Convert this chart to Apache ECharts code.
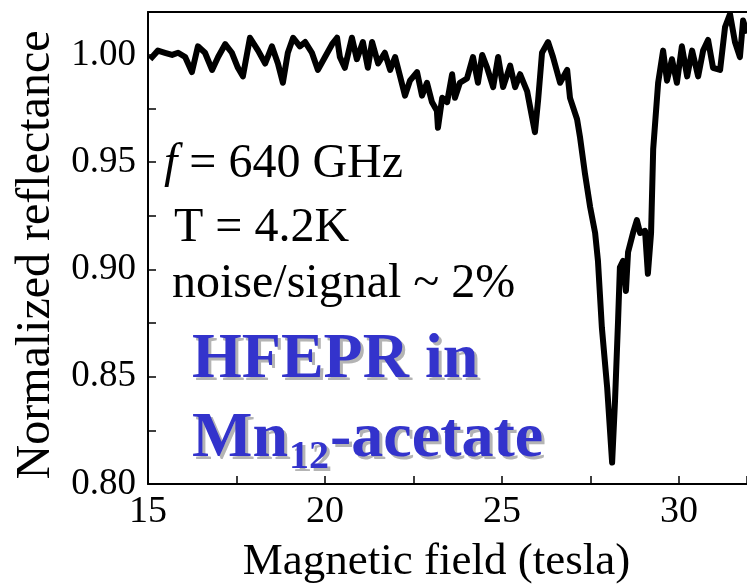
<!DOCTYPE html>
<html><head><meta charset="utf-8">
<script src="https://cdn.jsdelivr.net/npm/echarts@6/dist/echarts.min.js"></script>
<style>html,body{margin:0;padding:0;background:#fff}#c{width:747px;height:584px}</style>
</head><body><div id="c"></div>
<script>
var fieldTesla = [15.06,15.28,15.48,15.68,15.85,16.05,16.24,16.41,16.61,16.81,16.98,17.18,17.37,17.54,17.68,17.88,18.11,18.31,18.50,18.67,18.81,18.95,19.10,19.29,19.44,19.63,19.80,20.00,20.20,20.34,20.42,20.56,20.76,20.90,21.07,21.21,21.33,21.50,21.69,21.84,21.98,22.12,22.26,22.40,22.60,22.74,22.88,23.02,23.16,23.19,23.31,23.45,23.59,23.67,23.81,24.01,24.18,24.32,24.44,24.58,24.75,24.89,25.03,25.23,25.37,25.51,25.71,25.79,25.93,26.02,26.13,26.30,26.44,26.64,26.84,26.92,27.12,27.20,27.34,27.49,27.63,27.71,27.82,27.97,28.11,28.19,28.28,28.33,28.42,28.50,28.56,28.70,28.81,28.90,29.04,29.12,29.21,29.27,29.41,29.55,29.66,29.80,29.94,30.08,30.23,30.37,30.54,30.68,30.82,30.96,31.16,31.30,31.44,31.58,31.72,31.81,31.92];
var reflectance = [0.998,1.002,1.001,1.000,1.001,0.999,0.992,1.004,1.001,0.993,0.999,1.005,1.001,0.994,0.990,1.008,1.002,0.996,1.004,0.996,0.987,1.001,1.008,1.004,1.006,1.001,0.993,0.999,1.005,1.008,0.999,0.994,1.008,0.998,1.006,0.994,1.006,0.996,1.001,0.993,0.999,0.990,0.981,0.988,0.992,0.981,0.987,0.978,0.974,0.966,0.980,0.978,0.991,0.980,0.987,0.989,0.999,0.987,1.000,0.994,0.985,0.999,0.985,0.995,0.985,0.991,0.983,0.976,0.964,0.979,1.001,1.006,0.999,0.987,0.993,0.980,0.970,0.962,0.945,0.929,0.917,0.904,0.873,0.845,0.810,0.838,0.877,0.901,0.904,0.890,0.908,0.917,0.923,0.917,0.918,0.898,0.917,0.956,0.987,1.002,0.988,0.998,0.987,1.004,0.990,1.002,0.990,1.002,1.007,0.994,0.993,1.013,1.019,1.006,0.999,1.016,1.010];
var xTicks = [15,20,25,30];
var yTicks = [0.80,0.85,0.90,0.95,1.00];
var xName = 'Magnetic field (tesla)';
var yName = 'Normalized reflectance';
var noteLines = ['T = 4.2K','noise/signal ~ 2%'];

var serif = '"Liberation Serif","Times New Roman",serif';
var chart = echarts.init(document.getElementById('c'));
var data = fieldTesla.map(function(x,i){return [x,reflectance[i]];});
function isTick(v, arr){ for (var i=0;i<arr.length;i++){ if (Math.abs(v-arr[i])<1e-6) return true;} return false; }

var ctx = document.createElement('canvas').getContext('2d');
function tw(t, font){ ctx.font = font; return ctx.measureText(t).width; }
var boldFont = 'bold 64px ' + serif;
var subFont = 'bold 40px ' + serif;
var mnW = tw('Mn', boldFont), subW = tw('12', subFont);

function shadowText(x, y, text, font){
  return [
    {type:'text', left:x+3, top:y+3, style:{text:text, font:font, fill:'#b4b4b4'}},
    {type:'text', left:x, top:y, style:{text:text, font:font, fill:'#3333cc'}}
  ];
}
var noteFont = '48px ' + serif;
var graphics = [];
graphics.push({type:'text', left:164, top:140, style:{text:'{i|f} = 640 GHz', font:noteFont, fill:'#000', rich:{i:{fontStyle:'italic', fontFamily:serif, fontSize:48, fill:'#000'}}}});
graphics.push({type:'text', left:174, top:204, style:{text:noteLines[0], font:noteFont, fill:'#000'}});
graphics.push({type:'text', left:172, top:260, style:{text:noteLines[1], font:noteFont, fill:'#000'}});
graphics = graphics.concat(shadowText(192, 328, 'HFEPR in', boldFont));
graphics = graphics.concat(shadowText(192, 407, 'Mn', boldFont));
graphics = graphics.concat(shadowText(192+mnW+1, 438, '12', subFont));
graphics = graphics.concat(shadowText(192+mnW+subW+2, 407, '-acetate', boldFont));

chart.setOption({
  animation:false,
  grid:{left:148, right:0, top:12, bottom:100, show:false, containLabel:false, outerBoundsMode:'none'},
  xAxis:[{
    type:'value', min:15, max:31.92, interval:2.5,
    axisLine:{show:true, lineStyle:{color:'#000', width:2}},
    axisTick:{show:true, inside:true, length:8, lineStyle:{color:'#000', width:1.5}},
    splitLine:{show:false},
    axisLabel:{fontFamily:serif, fontSize:38, color:'#000', margin:9,
      formatter:function(v){ return isTick(v,xTicks) ? String(Math.round(v)) : ''; }},
    name:xName, nameLocation:'middle', nameGap:56,
    nameTextStyle:{fontFamily:serif, fontSize:45, color:'#000', padding:[0,22,0,0]}
  },{
    type:'value', position:'top', min:15, max:31.92,
    axisLine:{show:true, lineStyle:{color:'#000', width:2}},
    axisTick:{show:false}, axisLabel:{show:false}, splitLine:{show:false}
  }],
  yAxis:{
    type:'value', min:0.8, max:1.02, interval:0.025,
    axisLine:{show:true, lineStyle:{color:'#000', width:2}},
    axisTick:{show:true, inside:true, length:8, lineStyle:{color:'#000', width:1.5}},
    splitLine:{show:false},
    axisLabel:{fontFamily:serif, fontSize:37, color:'#000', margin:12,
      formatter:function(v){ return isTick(v,yTicks) ? v.toFixed(2) : ''; }},
    name:yName, nameLocation:'middle', nameGap:84, nameRotate:90,
    nameTextStyle:{fontFamily:serif, fontSize:48, color:'#000', padding:[0,14,0,0]}
  },
  series:[{
    type:'line', data:data, showSymbol:false, symbol:'none',
    lineStyle:{color:'#000', width:6, join:'round'}, clip:true
  }],
  graphic:graphics
});
</script></body></html>
